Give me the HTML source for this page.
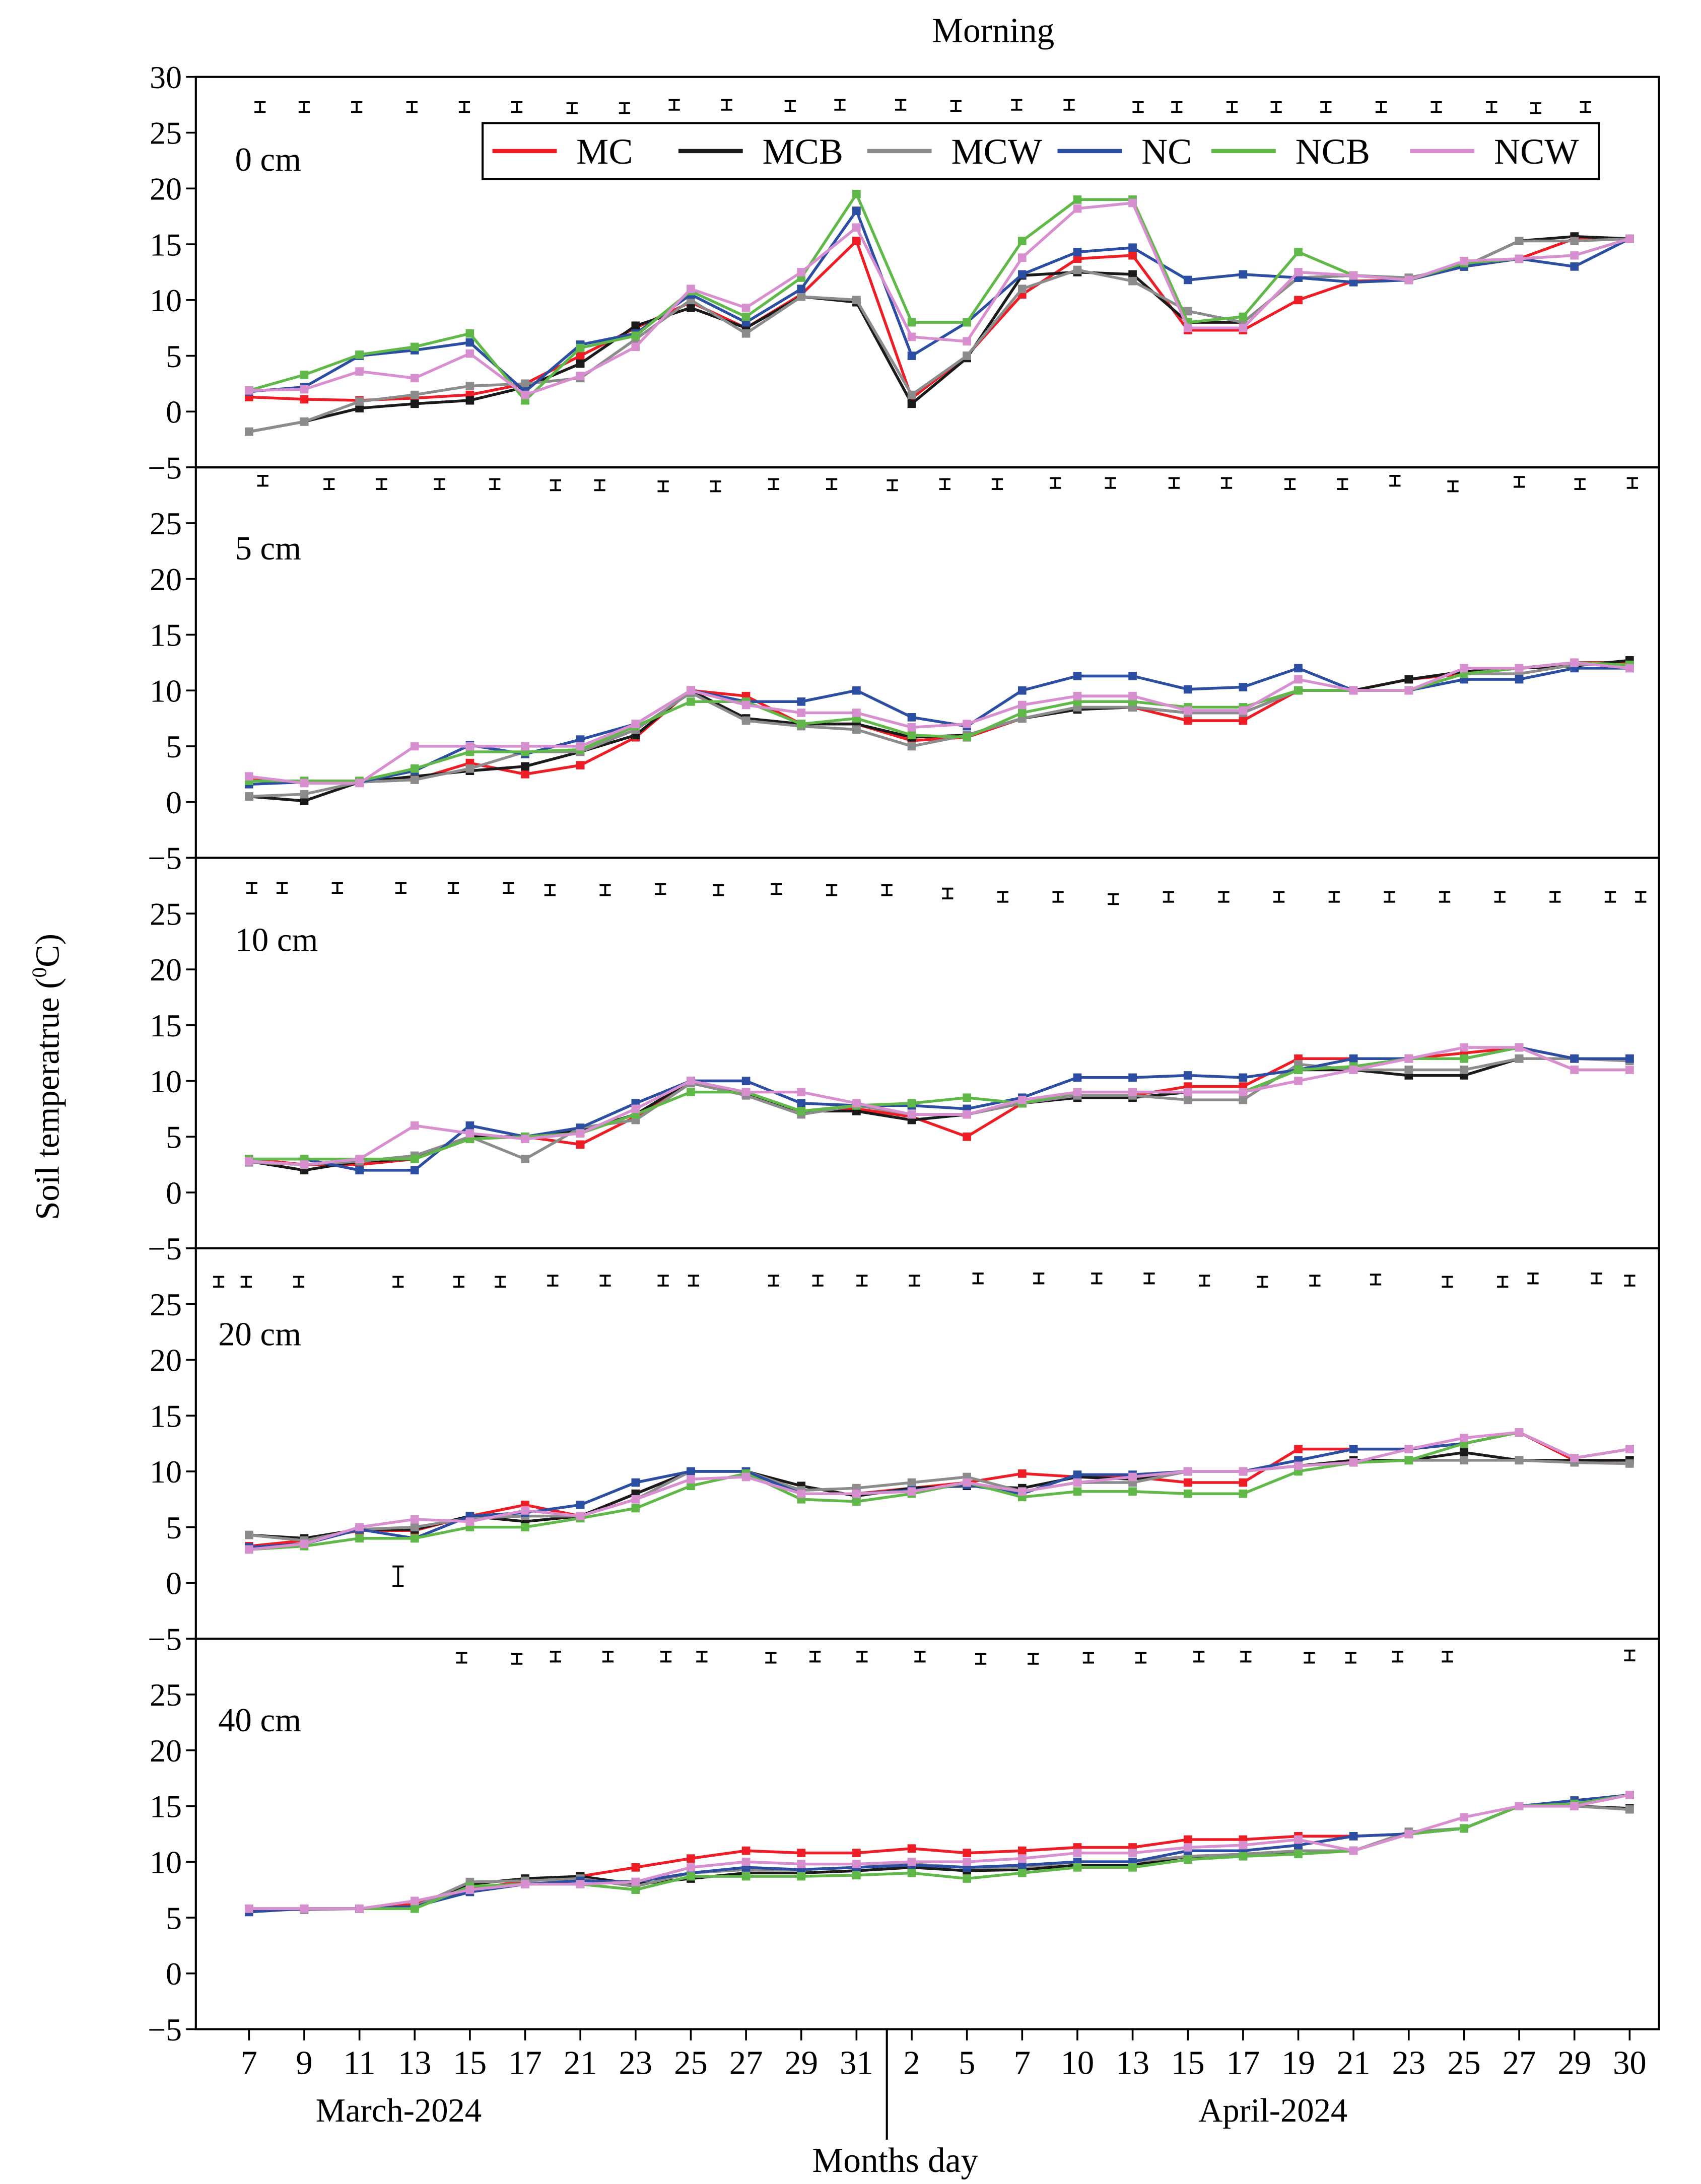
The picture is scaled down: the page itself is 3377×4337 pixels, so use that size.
<!DOCTYPE html>
<html><head><meta charset="utf-8"><style>html,body{margin:0;padding:0;background:#fff}svg{display:block}</style></head>
<body>
<svg id="chart" width="3377" height="4337" viewBox="0 0 1216 1561.7" xmlns="http://www.w3.org/2000/svg" font-family="'Liberation Serif', serif">
<text x="710" y="30" font-size="25" text-anchor="middle">Morning</text>
<text transform="translate(42,770) rotate(-90)" font-size="24" text-anchor="middle">Soil temperatrue (<tspan font-size="15" dy="-9">0</tspan><tspan dy="9">C)</tspan></text>
<g id="panels"></g>
<g id="xaxis"></g>
<line x1="634" y1="1451" x2="634" y2="1530" stroke="#000" stroke-width="1.5"/>
<text x="285" y="1517" font-size="24" text-anchor="middle">March-2024</text>
<text x="910" y="1517" font-size="24" text-anchor="middle">April-2024</text>
<text x="640" y="1553" font-size="25" text-anchor="middle">Months day</text>
<g id="legend"></g>
</svg>
<script>
const categories=["7","9","11","13","15","17","21","23","25","27","29","31","2","5","7","10","13","15","17","19","21","23","25","27","29","30"];
const seriesNames=["MC","MCB","MCW","NC","NCB","NCW"];
const depthLabels=["0 cm","5 cm","10 cm","20 cm","40 cm"];
const yTicks=[-5,0,5,10,15,20,25,30];
const p0_MC=[1.3,1.1,1.0,1.2,1.5,2.5,5.0,7.5,9.8,7.5,10.5,15.3,1.2,5.0,10.5,13.7,14.0,7.3,7.3,10.0,11.7,11.8,13.0,13.7,15.5,15.5];
const p0_MCB=[-1.8,-0.9,0.3,0.7,1.0,2.2,4.3,7.7,9.3,7.5,10.3,9.8,0.7,4.8,12.2,12.5,12.3,8.0,8.0,12.0,12.2,11.9,13.0,15.3,15.7,15.5];
const p0_MCW=[-1.8,-0.9,0.9,1.5,2.3,2.5,3.0,6.5,10.0,7.0,10.3,10.0,1.5,5.0,11.0,12.7,11.7,9.0,8.0,12.0,12.2,12.0,13.0,15.3,15.3,15.5];
const p0_NC=[1.8,2.2,5.0,5.5,6.2,1.8,6.0,7.0,10.5,8.0,11.0,18.0,5.0,8.0,12.3,14.3,14.7,11.8,12.3,12.0,11.6,11.8,13.0,13.7,13.0,15.5];
const p0_NCB=[1.9,3.3,5.1,5.8,7.0,1.0,5.7,6.8,10.8,8.5,12.0,19.5,8.0,8.0,15.3,19.0,19.0,8.0,8.5,14.3,12.2,11.8,13.3,13.7,14.0,15.5];
const p0_NCW=[1.9,2.0,3.6,3.0,5.2,1.5,3.2,5.8,11.0,9.3,12.5,16.5,6.7,6.3,13.8,18.2,18.7,7.5,7.5,12.5,12.2,11.8,13.5,13.7,14.0,15.5];
const p1_MC=[2.0,1.8,1.8,2.0,3.5,2.5,3.3,5.8,10.0,9.5,7.0,7.0,5.5,5.8,7.5,8.3,8.5,7.3,7.3,10.0,10.0,11.0,11.5,12.0,12.5,12.5];
const p1_MCB=[0.5,0.1,1.8,2.3,2.8,3.2,4.5,6.0,10.0,7.5,7.0,7.0,5.8,6.0,7.5,8.3,8.5,8.0,8.0,10.0,10.0,11.0,11.7,12.0,12.2,12.7];
const p1_MCW=[0.5,0.7,1.8,2.0,3.0,4.5,4.5,6.5,9.8,7.3,6.8,6.5,5.0,6.0,7.5,8.5,8.5,8.0,8.0,10.0,10.0,10.0,11.5,11.5,12.3,12.3];
const p1_NC=[1.6,1.8,1.8,2.8,5.1,4.3,5.6,7.0,10.0,9.0,9.0,10.0,7.6,6.8,10.0,11.3,11.3,10.1,10.3,12.0,10.0,10.0,11.0,11.0,12.0,12.0];
const p1_NCB=[1.9,1.9,1.9,3.0,4.5,4.5,4.7,6.8,9.0,9.0,7.0,7.5,6.0,5.8,8.0,9.0,9.0,8.5,8.5,10.0,10.0,10.0,11.5,12.0,12.5,12.3];
const p1_NCW=[2.3,1.7,1.7,5.0,5.0,5.0,5.0,7.0,10.0,8.7,8.0,8.0,6.7,7.0,8.7,9.5,9.5,8.2,8.2,11.0,10.0,10.0,12.0,12.0,12.5,12.0];
const p2_MC=[3.0,2.5,2.5,3.0,4.8,5.0,4.3,6.8,10.0,8.8,7.3,7.5,6.8,5.0,8.0,8.7,8.7,9.5,9.5,12.0,12.0,12.0,12.5,13.0,12.0,12.0];
const p2_MCB=[2.8,2.0,2.8,3.0,5.0,5.0,5.5,7.0,10.0,8.8,7.3,7.3,6.5,7.0,8.0,8.5,8.5,9.0,9.0,11.0,11.0,10.5,10.5,12.0,12.0,12.0];
const p2_MCW=[2.7,2.5,2.8,3.3,5.0,3.0,5.8,6.5,9.8,8.7,7.0,7.8,7.0,7.0,8.0,8.7,8.7,8.3,8.3,11.5,11.0,11.0,11.0,12.0,12.0,11.8];
const p2_NC=[3.0,3.0,2.0,2.0,6.0,5.0,5.8,8.0,10.0,10.0,8.0,7.8,7.8,7.5,8.5,10.3,10.3,10.5,10.3,11.0,12.0,12.0,12.0,13.0,12.0,12.0];
const p2_NCB=[3.0,3.0,3.0,3.0,4.8,5.0,5.3,7.0,9.0,9.0,7.3,7.8,8.0,8.5,8.0,9.0,9.0,9.0,9.0,11.0,11.3,12.0,12.0,13.0,11.0,11.0];
const p2_NCW=[2.8,2.5,3.0,6.0,5.3,4.8,5.3,7.5,10.0,9.0,9.0,8.0,7.0,7.0,8.3,9.0,9.0,9.0,9.0,10.0,11.0,12.0,13.0,13.0,11.0,11.0];
const p3_MC=[3.3,3.8,4.7,4.7,6.0,7.0,6.0,8.0,10.0,10.0,8.0,8.0,8.5,9.0,9.8,9.5,9.5,9.0,9.0,12.0,12.0,12.0,12.5,13.5,11.0,11.0];
const p3_MCB=[4.3,4.0,4.8,4.8,6.0,5.5,6.0,8.0,10.0,10.0,8.7,7.8,8.5,8.7,8.5,9.5,9.3,10.0,10.0,10.5,11.0,11.0,11.7,11.0,11.0,11.0];
const p3_MCW=[4.3,3.8,4.8,5.0,5.8,6.0,6.0,7.5,10.0,10.0,8.3,8.5,9.0,9.5,8.2,9.0,9.0,10.0,10.0,10.5,10.8,11.0,11.0,11.0,10.8,10.7];
const p3_NC=[3.2,3.5,4.8,4.0,6.0,6.3,7.0,9.0,10.0,10.0,8.0,8.0,8.3,8.8,8.0,9.7,9.7,10.0,10.0,11.0,12.0,12.0,12.5,13.5,11.2,12.0];
const p3_NCB=[3.0,3.3,4.0,4.0,5.0,5.0,5.8,6.7,8.7,9.8,7.5,7.3,8.0,9.0,7.7,8.2,8.2,8.0,8.0,10.0,10.8,11.0,12.5,13.5,11.2,12.0];
const p3_NCW=[3.0,3.5,5.0,5.7,5.5,6.5,6.0,7.5,9.3,9.5,8.0,8.0,8.2,9.0,8.2,9.0,9.5,10.0,10.0,10.5,10.8,12.0,13.0,13.5,11.2,12.0];
const p4_MC=[5.8,5.8,5.8,6.2,7.5,8.3,8.7,9.5,10.3,11.0,10.8,10.8,11.2,10.8,11.0,11.3,11.3,12.0,12.0,12.3,12.3,12.5,13.0,15.0,15.2,16.0];
const p4_MCB=[5.7,5.8,5.8,6.0,8.0,8.5,8.7,8.0,8.5,9.0,9.0,9.2,9.5,9.2,9.3,9.7,9.7,10.5,10.5,11.0,11.0,12.5,13.0,15.0,15.0,14.8];
const p4_MCW=[5.8,5.7,5.8,6.0,8.2,8.3,8.5,7.8,9.0,9.3,9.3,9.5,9.8,9.5,9.5,10.0,10.0,10.5,10.7,11.0,11.0,12.7,13.0,15.0,15.0,14.7];
const p4_NC=[5.5,5.8,5.8,6.0,7.3,8.0,8.3,8.2,9.0,9.5,9.3,9.5,9.7,9.5,9.7,10.0,10.0,11.0,11.0,11.5,12.3,12.5,13.0,15.0,15.5,16.0];
const p4_NCB=[5.8,5.8,5.8,5.8,7.8,8.0,8.0,7.5,8.7,8.7,8.7,8.8,9.0,8.5,9.0,9.5,9.5,10.2,10.5,10.7,11.0,12.5,13.0,15.0,15.2,16.0];
const p4_NCW=[5.8,5.8,5.8,6.5,7.5,8.0,8.0,8.2,9.5,10.0,9.8,9.8,10.0,10.0,10.3,10.8,10.8,11.3,11.5,12.0,11.0,12.5,14.0,15.0,15.0,16.0];
// error bars: positions in category-index units, centre values
const err0_x=[0.2,1.0,1.95,2.95,3.9,4.85,5.85,6.8,7.7,8.65,9.8,10.7,11.8,12.8,13.9,14.85,16.1,16.8,17.8,18.6,19.5,20.5,21.5,22.5,23.3,24.2];
const err0_y=[27.3,27.3,27.3,27.3,27.3,27.3,27.2,27.2,27.5,27.5,27.4,27.5,27.5,27.4,27.5,27.5,27.3,27.3,27.3,27.3,27.3,27.3,27.3,27.3,27.2,27.3];
const err1_x=[0.25,1.45,2.4,3.45,4.45,5.55,6.35,7.5,8.45,9.5,10.55,11.65,12.6,13.55,14.6,15.6,16.75,17.7,18.85,19.8,20.75,21.8,23.0,24.1,25.05];
const err1_y=[28.8,28.5,28.5,28.5,28.5,28.4,28.4,28.3,28.3,28.5,28.5,28.4,28.5,28.5,28.6,28.6,28.6,28.6,28.5,28.5,28.8,28.3,28.7,28.5,28.6];
const err2_x=[0.05,0.6,1.6,2.75,3.7,4.7,5.45,6.45,7.45,8.5,9.55,10.55,11.55,12.65,13.65,14.65,15.65,16.65,17.65,18.65,19.65,20.65,21.65,22.65,23.65,24.65,25.2];
const err2_y=[27.3,27.3,27.3,27.3,27.3,27.3,27.1,27.1,27.2,27.1,27.2,27.1,27.1,26.8,26.5,26.5,26.3,26.5,26.5,26.5,26.5,26.5,26.5,26.5,26.5,26.5,26.5];
const err3_x=[-0.55,-0.05,0.9,2.7,3.8,4.55,5.5,6.45,7.5,8.05,9.5,10.3,11.1,12.05,13.2,14.3,15.35,16.3,17.3,18.35,19.3,20.4,21.7,22.7,23.25,24.4,25.0];
const err3_y=[27.0,27.0,27.0,27.0,27.0,27.0,27.1,27.1,27.1,27.1,27.1,27.1,27.1,27.1,27.3,27.3,27.3,27.3,27.1,27.0,27.1,27.2,27.0,27.0,27.3,27.3,27.1];
const err4_x=[3.85,4.85,5.55,6.5,7.55,8.2,9.45,10.25,11.1,12.15,13.25,14.2,15.2,16.15,17.2,18.05,19.2,19.95,20.8,21.7,25.0];
const err4_y=[28.3,28.2,28.4,28.4,28.4,28.4,28.3,28.4,28.4,28.4,28.2,28.2,28.3,28.3,28.4,28.4,28.3,28.3,28.4,28.4,28.5];
const errExtra_panel=[3]; const errExtra_x=[2.7]; const errExtra_y=[0.6];
const colors=["#ee1c24","#1a1a1a","#8c8c8c","#2b4ea2","#5fb848","#d88fd0"];
const panels=[[p0_MC,p0_MCB,p0_MCW,p0_NC,p0_NCB,p0_NCW],[p1_MC,p1_MCB,p1_MCW,p1_NC,p1_NCB,p1_NCW],[p2_MC,p2_MCB,p2_MCW,p2_NC,p2_NCB,p2_NCW],[p3_MC,p3_MCB,p3_MCW,p3_NC,p3_NCB,p3_NCW],[p4_MC,p4_MCB,p4_MCW,p4_NC,p4_NCB,p4_NCW]];
const errX=[err0_x,err1_x,err2_x,err3_x,err4_x], errY=[err0_y,err1_y,err2_y,err3_y,err4_y];
const labelY=[122,400,680,962,1238];

const NS="http://www.w3.org/2000/svg";
const L=140,R=1186,TOP=55,PH=279.2;
function mk(t,a,p){const e=document.createElementNS(NS,t);for(const k in a)e.setAttribute(k,a[k]);p.appendChild(e);return e;}
function xS(i){return 178+i*39.48;}
function yS(p,v){return TOP+p*PH+(30-v)*PH/35;}
const gP=document.getElementById('panels');
panels.forEach((ser,p)=>{
  const g=mk('g',{},gP);
  
  
  const fr=mk('rect',{x:L,y:TOP+p*PH,width:R-L,height:PH,fill:'none',stroke:'#000','stroke-width':1.5},g);
  
  
  yTicks.forEach(t=>{
    const y=yS(p,t);
    const tk=mk('line',{x1:L-7,x2:L,y1:y,y2:y,stroke:'#000','stroke-width':1.3},g);
    
    
    if(t===30&&p>0)return;
    const tx=mk('text',{x:L-10,y:y+8,'font-size':23,'text-anchor':'end'},g);
    
    
    tx.textContent=t<0?'\u2212'+(-t):t;
  });
  const dl=mk('text',{x:p<3?168:156,y:labelY[p],'font-size':24},g);
  
  
  dl.textContent=depthLabels[p];
  ser.forEach((vals,s)=>{
    const pts=vals.map((v,i)=>xS(i).toFixed(1)+','+yS(p,v).toFixed(1)).join(' ');
    const pl=mk('polyline',{points:pts,fill:'none',stroke:colors[s],'stroke-width':2},g);
    
    
    vals.forEach((v,i)=>{
      const m=mk('rect',{x:xS(i)-3,y:yS(p,v)-3,width:6,height:6,fill:colors[s]},g);
      
      
    });
  });
  const ex=errX[p].slice(), ey=errY[p].slice();
  errExtra_panel.forEach((pp,k)=>{if(pp===p){ex.push(errExtra_x[k]);ey.push(errExtra_y[k]);}});
  ex.forEach((xi,k)=>{
    const x=xS(xi), yc=yS(p,ey[k]), h=(k>=errX[p].length)?7:3.5;
    const eb=mk('path',{d:`M${x-4},${yc-h}H${x+4}M${x},${yc-h}V${yc+h}M${x-4},${yc+h}H${x+4}`,stroke:'#000','stroke-width':1.4,fill:'none'},g);
    
    
  });
});
const gx=document.getElementById('xaxis');
const yb=TOP+5*PH;
categories.forEach((c,i)=>{
  const tk=mk('line',{x1:xS(i),x2:xS(i),y1:yb,y2:yb+8,stroke:'#000','stroke-width':1.3},gx);
  
  
  const tx=mk('text',{x:xS(i),y:yb+32,'font-size':24,'text-anchor':'middle'},gx);
  
  
  tx.textContent=c;
});
const lg=document.getElementById('legend');
const lb=mk('rect',{x:345,y:88,width:798,height:40,fill:'#fff',stroke:'#000','stroke-width':1.5},lg);


const lgX=[352,485,620,756,866,1008];
seriesNames.forEach((n,s)=>{
  const ln=mk('line',{x1:lgX[s],x2:lgX[s]+46,y1:108,y2:108,stroke:colors[s],'stroke-width':3},lg);
  
  
  const t=mk('text',{x:lgX[s]+60,y:117,'font-size':26},lg);
  
  
  t.textContent=n;
});
</script>
</body></html>
